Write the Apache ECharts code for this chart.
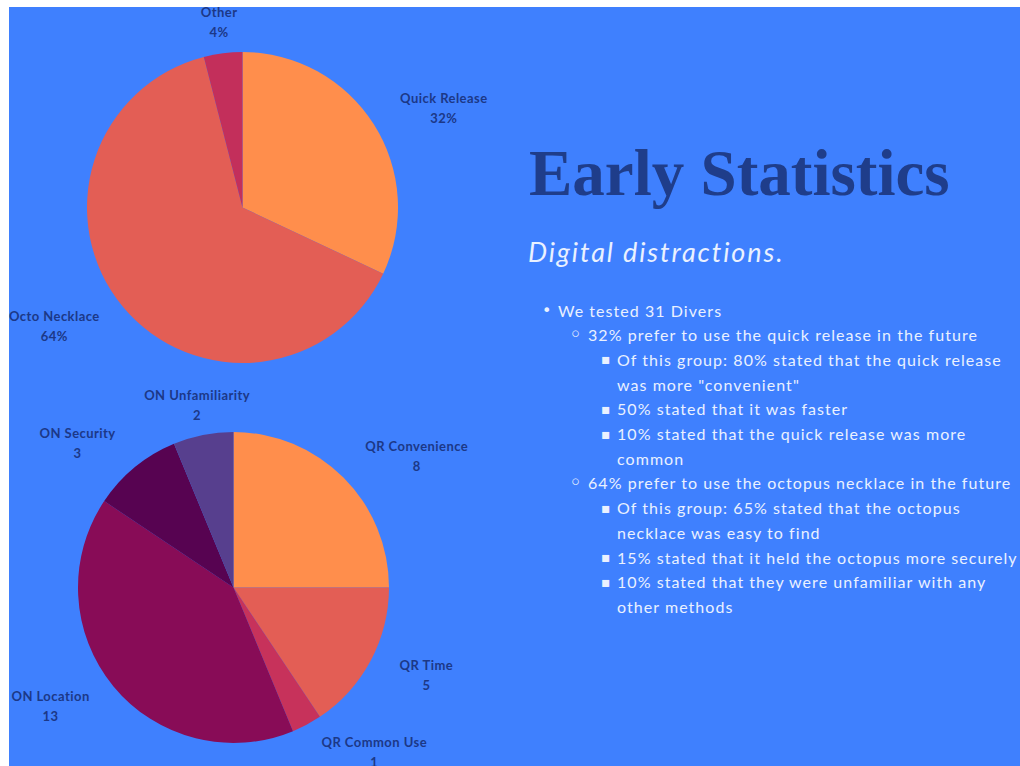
<!DOCTYPE html>
<html><head><meta charset="utf-8">
<script src="https://cdn.jsdelivr.net/npm/echarts@6/dist/echarts.min.js"></script>
<style>
html,body{margin:0;padding:0;background:#fff;}
#c{width:1020px;height:766px;}
#c text[style*="13px"]{letter-spacing:0.45px;}
#c text[style*="16px Lato"]{letter-spacing:1.05px;}
#c text[style*="italic"]{letter-spacing:1.9px;}
</style>
</head><body><div id="c"></div>
<script>
// ---- data ----
const preferenceNames = ['Quick Release', 'Octo Necklace', 'Other'];
const preferenceValues = [32, 64, 4];
const reasonNames = ['QR Convenience', 'QR Time', 'QR Common Use', 'ON Location', 'ON Security', 'ON Unfamiliarity'];
const reasonValues = [8, 5, 1, 13, 3, 2];
const titleText = 'Early Statistics';
const subtitleText = 'Digital distractions.';
const bulletLevels = [1, 2, 3, 3, 3, 3, 3, 2, 3, 3, 3, 3, 3];
const bulletContinued = [false, false, false, true, false, false, true, false, false, true, false, false, true];
const bulletTexts = [
  'We tested 31 Divers',
  '32% prefer to use the quick release in the future',
  'Of this group: 80% stated that the quick release',
  'was more "convenient"',
  '50% stated that it was faster',
  '10% stated that the quick release was more',
  'common',
  '64% prefer to use the octopus necklace in the future',
  'Of this group: 65% stated that the octopus',
  'necklace was easy to find',
  '15% stated that it held the octopus more securely',
  '10% stated that they were unfamiliar with any',
  'other methods'
];

// ---- styles ----
const preferenceColors = ['#FF8E4C', '#E35E55', '#C32F5B'];
const reasonColors = ['#FF8E4C', '#E35E55', '#C7325B', '#880C57', '#570351', '#573F8E'];
const labelColor = '#1c3887';
const bg = '#3f80fe';
const textLight = '#eaf1ff';

function makeLayout(values) {
  const total = values.reduce((a, b) => a + b, 0);
  return function (p) {
    let before = 0;
    for (let i = 0; i < p.dataIndex; i++) before += values[i];
    const mid = (before + values[p.dataIndex] / 2) / total * 2 * Math.PI;
    const s = Math.sin(mid);
    const r = p.labelRect;
    let anchor = r.x + r.width / 2;
    if (p.align === 'left') anchor = r.x;
    else if (p.align === 'right') anchor = r.x + r.width;
    let x = r.x + r.width / 2;
    if (Math.abs(s) < 0.25) x = anchor;
    else if (p.align === 'left') x += 3;
    else if (p.align === 'right') x -= 2;
    return { x: x, y: r.y + r.height / 2, align: 'center', verticalAlign: 'middle' };
  };
}

function pieSeries(names, values, colors, center, fmt) {
  return {
    type: 'pie',
    center: center,
    radius: 155.5,
    startAngle: 90,
    clockwise: true,
    avoidLabelOverlap: false,
    silent: true,
    animation: false,
    data: names.map((n, i) => ({ name: n, value: values[i], itemStyle: { color: colors[i] } })),
    itemStyle: { borderWidth: 0 },
    label: {
      show: true,
      position: 'outside',
      alignTo: 'none',
      bleedMargin: 0,
      distanceToLabelLine: 0,
      overflow: 'none',
      formatter: fmt,
      color: labelColor,
      fontFamily: 'Lato',
      fontWeight: 'bold',
      fontSize: 13,
      lineHeight: 20
    },
    labelLine: { show: false, length: 31, length2: 0 },
    labelLayout: makeLayout(values)
  };
}

const graphics = [
  { type: 'rect', shape: { x: 9, y: 7, width: 1011, height: 759 }, style: { fill: bg }, z: -10, silent: true },
  { type: 'text', x: 529, y: 173, style: { text: titleText, fill: '#1f3d8a', font: 'bold 65px "Liberation Serif"', verticalAlign: 'middle' } },
  { type: 'text', x: 528, y: 251, style: { text: subtitleText, fill: textLight, font: 'italic 27px Lato', verticalAlign: 'middle' } }
];
const bulletChars = { 1: '•', 2: '◦', 3: '▪' };
const bulletFonts = { 1: '16px "DejaVu Sans"', 2: '22px "DejaVu Sans"', 3: '14px "DejaVu Sans"' };
const levelX = { 1: 542, 2: 569, 3: 601 };
const textX = { 1: 558, 2: 588, 3: 617 };
bulletTexts.forEach((t, i) => {
  const y = 310 + i * 24.7;
  const lv = bulletLevels[i];
  if (!bulletContinued[i]) {
    graphics.push({ type: 'text', x: levelX[lv], y: y, style: { text: bulletChars[lv], fill: textLight, font: bulletFonts[lv], verticalAlign: 'middle' } });
  }
  graphics.push({ type: 'text', x: textX[lv], y: y, style: { text: t, fill: textLight, font: '16px Lato', verticalAlign: 'middle' } });
});

const chart = echarts.init(document.getElementById('c'), null, { renderer: 'svg' });
chart.setOption({
  backgroundColor: '#ffffff',
  animation: false,
  graphic: graphics,
  series: [
    pieSeries(preferenceNames, preferenceValues, preferenceColors, [242.5, 207.5], '{b}\n{c}%'),
    pieSeries(reasonNames, reasonValues, reasonColors, [233.5, 587.5], '{b}\n{c}')
  ]
});
</script></body></html>
